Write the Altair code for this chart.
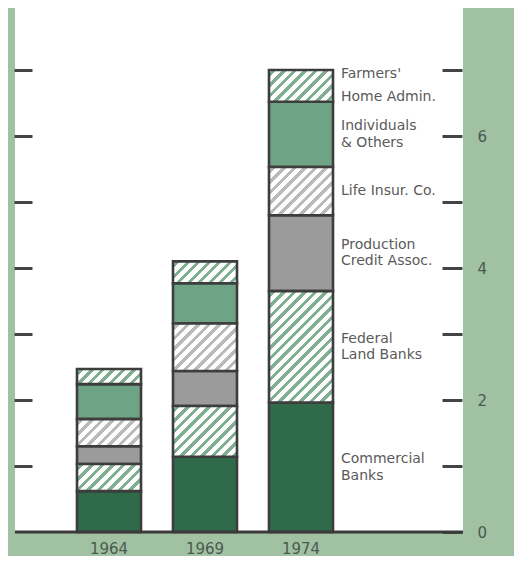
import math
import altair as alt
import pandas as pd

# ---------------- data (billions of dollars) -------------
YEARS = ["1964", "1969", "1974"]
SOURCES = [
    "Commercial Banks",
    "Federal Land Banks",
    "Production Credit Assoc.",
    "Life Insur. Co.",
    "Individuals & Others",
    "Farmers' Home Admin.",
]
LABELS = [
    "Commercial\nBanks",
    "Federal\nLand Banks",
    "Production\nCredit Assoc.",
    "Life Insur. Co.",
    "Individuals\n& Others",
    "Farmers'\nHome Admin.",
]
V1964 = [0.62, 0.41, 0.27, 0.41, 0.53, 0.23]
V1969 = [1.14, 0.77, 0.53, 0.72, 0.61, 0.33]
V1974 = [1.96, 1.69, 1.15, 0.73, 0.99, 0.48]
LABEL_YEAR = "1974"

LEFT_TICKS = [1, 2, 3, 4, 5, 6, 7]
RIGHT_TICKS = [0, 1, 2, 3, 4, 5, 6, 7]
RIGHT_LABELED = [0, 2, 4, 6]

# ---------------- styles -------------
SOLID = ["Commercial Banks", "Production Credit Assoc.", "Individuals & Others"]
SOLID_COLORS = ["#2f6b49", "#9b9b9b", "#6fa386"]
HATCH_COLORS = {
    "Federal Land Banks": "#7fae90",
    "Life Insur. Co.": "#bababa",
    "Farmers' Home Admin.": "#7fae90",
}
STROKE = "#3d3d3d"
TEXT = "#5a5a5a"
AXIS_TEXT = "#4b5950"
BG = "#a1c1a3"

W, H = 448, 524
YMAX = 7.94
BAND = 64
PX = H / YMAX

# ---------------- table -------------
rows = []
for yr, vals in zip(YEARS, [V1964, V1969, V1974]):
    cum = 0.0
    for src, lab, v in zip(SOURCES, LABELS, vals):
        rows.append(dict(year=yr, source=src, label=lab, value=v,
                         y0=cum, y1=cum + v, mid=cum + v / 2,
                         nlines=lab.count("\n") + 1))
        cum += v
df = pd.DataFrame(rows)

xscale = alt.Scale(domain=YEARS, range=[62, 318], paddingInner=1 / 3, paddingOuter=0)
yscale = alt.Scale(domain=[0, YMAX], nice=False, zero=True)


def hatch(w, h, color, period=10.5, frac=0.42, phase=0.3):
    total = w + h
    denom = w * w + h * h
    x2 = w * total / denom
    y2 = h * total / denom
    pt = period / total
    stops = [{"offset": 0, "color": "white"}]
    k = 0
    while True:
        s = (k + phase) * pt
        if s >= 1:
            break
        e = min(s + frac * pt, 1.0)
        stops += [
            {"offset": round(s, 5), "color": "white"},
            {"offset": round(s, 5), "color": color},
            {"offset": round(e, 5), "color": color},
            {"offset": round(e, 5), "color": "white"},
        ]
        k += 1
    stops.append({"offset": 1, "color": "white"})
    return {"gradient": "linear", "x1": 0, "y1": 0,
            "x2": round(x2, 5), "y2": round(y2, 5), "stops": stops}


left_axis = alt.Axis(orient="left", values=LEFT_TICKS, labels=False, domain=False,
                     grid=False, ticks=True, tickSize=18, tickWidth=3,
                     tickColor="#444444", offset=-17, title=None)

lab_list = ",".join(str(v) for v in RIGHT_LABELED)
right_axis = alt.Axis(orient="right", values=RIGHT_TICKS,
                      labelExpr=f"indexof([{lab_list}], datum.value) >= 0 ? datum.label : ''",
                      domain=False, grid=False, ticks=True, tickSize=20, tickWidth=3,
                      tickColor="#444444", offset=-21, labelPadding=15,
                      labelFont="DejaVu Sans", labelFontSize=15, labelColor=AXIS_TEXT,
                      labelAlign="left", labelBaseline="middle", labelFlush=False,
                      labelOverlap=False, title=None)

x_axis = alt.Axis(orient="bottom", title=None, ticks=False, tickSize=0, domain=False,
                  labelAngle=0, labelFont="DejaVu Sans", labelFontSize=15,
                  labelColor=AXIS_TEXT, labelPadding=9, grid=False)

solid = alt.Chart(df[df.source.isin(SOLID)]).mark_bar(
    stroke=STROKE, strokeWidth=2.6
).encode(
    x=alt.X("year:N", scale=xscale, axis=x_axis),
    y=alt.Y("y0:Q", scale=yscale, axis=left_axis),
    y2="y1:Q",
    fill=alt.Fill("source:N", scale=alt.Scale(domain=SOLID, range=SOLID_COLORS), legend=None),
)

layers = [solid]
for _, r in df[~df.source.isin(SOLID)].iterrows():
    grad = hatch(BAND, r["value"] * PX, HATCH_COLORS[r["source"]])
    layers.append(
        alt.Chart(pd.DataFrame([r])).mark_bar(fill=grad, stroke=STROKE, strokeWidth=2.6)
        .encode(
            x=alt.X("year:N", scale=xscale, axis=None),
            y=alt.Y("y0:Q", scale=yscale, axis=None),
            y2="y1:Q",
        )
    )

baseline = alt.Chart(pd.DataFrame({"y": [0]})).mark_rule(
    color="#3a3a3a", strokeWidth=3
).encode(y=alt.Y("y:Q", scale=yscale, axis=right_axis))
layers.append(baseline)

lab_df = df[df.year == LABEL_YEAR]
text_style = dict(align="left", baseline="middle", dx=40, font="DejaVu Sans",
                  fontSize=14, color=TEXT, lineBreak="\n")
is_fha = lab_df.source == "Farmers' Home Admin."
groups = [
    (lab_df[(~is_fha) & (lab_df.nlines == 1)], 16.5, 1),
    (lab_df[(~is_fha) & (lab_df.nlines == 2)], 16.5, 2),
    (lab_df[is_fha], 23, 2),
]
for subset, lh, n in groups:
    layers.append(
        alt.Chart(subset).mark_text(lineHeight=lh, dy=-(n - 1) * lh / 2, **text_style).encode(
            x=alt.X("year:N", scale=xscale, axis=None),
            y=alt.Y("mid:Q", scale=yscale, axis=None),
            text="label:N",
        )
    )

chart = alt.layer(*layers).resolve_axis(x="independent", y="independent").properties(
    width=W, height=H,
    padding={"left": 7, "top": 0, "right": 51, "bottom": 24},
    autosize=alt.AutoSizeParams(type="none"),
    background=BG,
).configure_view(fill="white", strokeWidth=0)

chart.save("out.html", embed_options={"renderer": "svg", "actions": False})
